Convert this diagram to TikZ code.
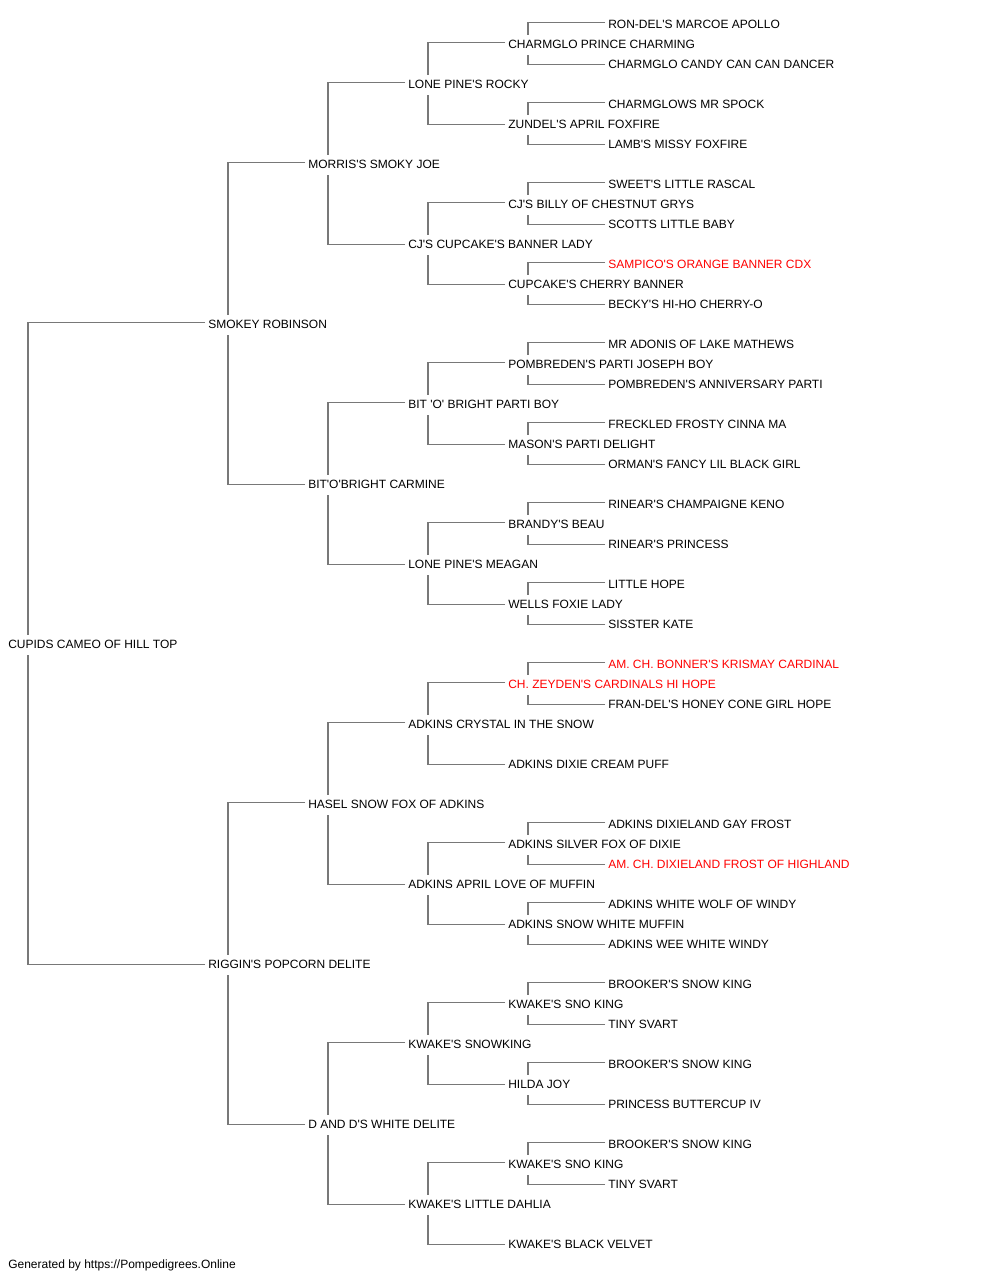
\documentclass[tikz,border=0pt]{standalone}
\usepackage{fontspec}
\setmainfont{Liberation Sans}[Ligatures=TeXOff]
\definecolor{linegray}{RGB}{120,120,120}
\newcommand\pedS[2]{\draw[conn] ([xshift=-2.25pt,yshift=1.1pt]#2.west) -| ([xshift=15pt,yshift=6.6pt]#1.west);}
\newcommand\pedD[2]{\draw[conn] ([xshift=-2.25pt,yshift=-0.5pt]#2.west) -| ([xshift=15pt,yshift=-8.4pt]#1.west);}
\begin{document}
\begin{tikzpicture}[x=0.75pt,y=-0.75pt,
  pn/.style={anchor=west,inner sep=0pt,text height=6.44pt,text depth=0pt,font=\fontsize{9pt}{11pt}\selectfont},
  redn/.style={pn,text=red},
  conn/.style={draw=linegray,line width=1.1pt}]
\fill[white] (0,0) rectangle (1000,1280);
\useasboundingbox (0,0) rectangle (1000,1280);
% generation 0
\node[pn] (n32) at (8,644) {CUPIDS CAMEO OF HILL TOP};
% generation 1
\node[pn] (n16) at (208,324) {SMOKEY ROBINSON};
\node[pn] (n48) at (208,964) {RIGGIN'S POPCORN DELITE};
% generation 2
\node[pn] (n8) at (308,164) {MORRIS'S SMOKY JOE};
\node[pn] (n24) at (308,484) {BIT'O'BRIGHT CARMINE};
\node[pn] (n40) at (308,804) {HASEL SNOW FOX OF ADKINS};
\node[pn] (n56) at (308,1124) {D AND D'S WHITE DELITE};
% generation 3
\node[pn] (n4) at (408,84) {LONE PINE'S ROCKY};
\node[pn] (n12) at (408,244) {CJ'S CUPCAKE'S BANNER LADY};
\node[pn] (n20) at (408,404) {BIT 'O' BRIGHT PARTI BOY};
\node[pn] (n28) at (408,564) {LONE PINE'S MEAGAN};
\node[pn] (n36) at (408,724) {ADKINS CRYSTAL IN THE SNOW};
\node[pn] (n44) at (408,884) {ADKINS APRIL LOVE OF MUFFIN};
\node[pn] (n52) at (408,1044) {KWAKE'S SNOWKING};
\node[pn] (n60) at (408,1204) {KWAKE'S LITTLE DAHLIA};
% generation 4
\node[pn] (n2) at (508,44) {CHARMGLO PRINCE CHARMING};
\node[pn] (n6) at (508,124) {ZUNDEL'S APRIL FOXFIRE};
\node[pn] (n10) at (508,204) {CJ'S BILLY OF CHESTNUT GRYS};
\node[pn] (n14) at (508,284) {CUPCAKE'S CHERRY BANNER};
\node[pn] (n18) at (508,364) {POMBREDEN'S PARTI JOSEPH BOY};
\node[pn] (n22) at (508,444) {MASON'S PARTI DELIGHT};
\node[pn] (n26) at (508,524) {BRANDY'S BEAU};
\node[pn] (n30) at (508,604) {WELLS FOXIE LADY};
\node[redn] (n34) at (508,684) {CH. ZEYDEN'S CARDINALS HI HOPE};
\node[pn] (n38) at (508,764) {ADKINS DIXIE CREAM PUFF};
\node[pn] (n42) at (508,844) {ADKINS SILVER FOX OF DIXIE};
\node[pn] (n46) at (508,924) {ADKINS SNOW WHITE MUFFIN};
\node[pn] (n50) at (508,1004) {KWAKE'S SNO KING};
\node[pn] (n54) at (508,1084) {HILDA JOY};
\node[pn] (n58) at (508,1164) {KWAKE'S SNO KING};
\node[pn] (n62) at (508,1244) {KWAKE'S BLACK VELVET};
% generation 5
\node[pn] (n1) at (608,24) {RON-DEL'S MARCOE APOLLO};
\node[pn] (n3) at (608,64) {CHARMGLO CANDY CAN CAN DANCER};
\node[pn] (n5) at (608,104) {CHARMGLOWS MR SPOCK};
\node[pn] (n7) at (608,144) {LAMB'S MISSY FOXFIRE};
\node[pn] (n9) at (608,184) {SWEET'S LITTLE RASCAL};
\node[pn] (n11) at (608,224) {SCOTTS LITTLE BABY};
\node[redn] (n13) at (608,264) {SAMPICO'S ORANGE BANNER CDX};
\node[pn] (n15) at (608,304) {BECKY'S HI-HO CHERRY-O};
\node[pn] (n17) at (608,344) {MR ADONIS OF LAKE MATHEWS};
\node[pn] (n19) at (608,384) {POMBREDEN'S ANNIVERSARY PARTI};
\node[pn] (n21) at (608,424) {FRECKLED FROSTY CINNA MA};
\node[pn] (n23) at (608,464) {ORMAN'S FANCY LIL BLACK GIRL};
\node[pn] (n25) at (608,504) {RINEAR'S CHAMPAIGNE KENO};
\node[pn] (n27) at (608,544) {RINEAR'S PRINCESS};
\node[pn] (n29) at (608,584) {LITTLE HOPE};
\node[pn] (n31) at (608,624) {SISSTER KATE};
\node[redn] (n33) at (608,664) {AM. CH. BONNER'S KRISMAY CARDINAL};
\node[pn] (n35) at (608,704) {FRAN-DEL'S HONEY CONE GIRL HOPE};
\node[pn] (n41) at (608,824) {ADKINS DIXIELAND GAY FROST};
\node[redn] (n43) at (608,864) {AM. CH. DIXIELAND FROST OF HIGHLAND};
\node[pn] (n45) at (608,904) {ADKINS WHITE WOLF OF WINDY};
\node[pn] (n47) at (608,944) {ADKINS WEE WHITE WINDY};
\node[pn] (n49) at (608,984) {BROOKER'S SNOW KING};
\node[pn] (n51) at (608,1024) {TINY SVART};
\node[pn] (n53) at (608,1064) {BROOKER'S SNOW KING};
\node[pn] (n55) at (608,1104) {PRINCESS BUTTERCUP IV};
\node[pn] (n57) at (608,1144) {BROOKER'S SNOW KING};
\node[pn] (n59) at (608,1184) {TINY SVART};
% footer
\node[pn] (foot) at (8,1264) {Generated by https://Pompedigrees.Online};
% connectors
\foreach \p/\s/\d in {32/16/48, 16/8/24, 48/40/56,
  8/4/12, 24/20/28, 40/36/44, 56/52/60,
  4/2/6, 12/10/14, 20/18/22, 28/26/30, 36/34/38, 44/42/46, 52/50/54, 60/58/62,
  2/1/3, 6/5/7, 10/9/11, 14/13/15, 18/17/19, 22/21/23, 26/25/27, 30/29/31,
  34/33/35, 42/41/43, 46/45/47, 50/49/51, 54/53/55, 58/57/59}{
  \pedS{n\p}{n\s}
  \pedD{n\p}{n\d}
}
\end{tikzpicture}
\end{document}
